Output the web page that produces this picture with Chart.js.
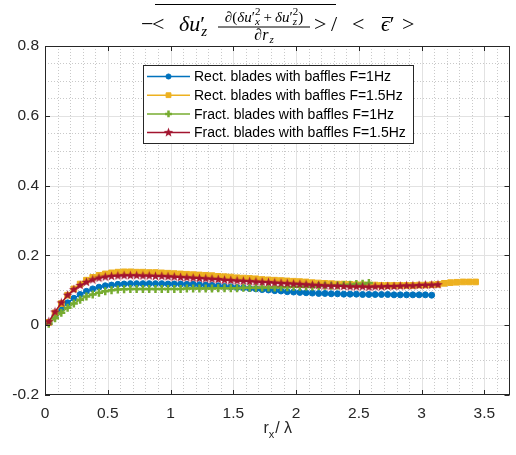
<!DOCTYPE html>
<html>
<head>
<meta charset="utf-8">
<script src="https://cdn.jsdelivr.net/npm/chart.js@4.4.1/dist/chart.umd.min.js"></script>
<style>
	html, body { margin: 0; padding: 0; background: #fff; }
</style>
</head>
<body>
<canvas id="myChart" width="516" height="455"></canvas>
<script>
// separation r_x / lambda, shared by all four series
const rx = [0.03, 0.08, 0.13, 0.18, 0.23, 0.28, 0.33, 0.38, 0.43, 0.48,
	0.53, 0.58, 0.63, 0.68, 0.73, 0.78, 0.83, 0.88, 0.93, 0.98,
	1.03, 1.08, 1.13, 1.18, 1.23, 1.28, 1.33, 1.38, 1.43, 1.48,
	1.53, 1.58, 1.63, 1.68, 1.73, 1.78, 1.83, 1.88, 1.93, 1.98,
	2.03, 2.08, 2.13, 2.18, 2.23, 2.28, 2.33, 2.38, 2.43, 2.48,
	2.53, 2.58, 2.63, 2.68, 2.73, 2.78, 2.83, 2.88, 2.93, 2.98,
	3.03, 3.08, 3.13, 3.18, 3.23, 3.28, 3.33, 3.38, 3.43];

const rect1Hz = [0.008, 0.028, 0.048, 0.064, 0.077, 0.088, 0.097, 0.104, 0.109, 0.113,
	0.115, 0.117, 0.118, 0.119, 0.119, 0.119, 0.119, 0.119, 0.119, 0.118,
	0.118, 0.118, 0.117, 0.117, 0.116, 0.115, 0.114, 0.113, 0.111, 0.110,
	0.108, 0.107, 0.105, 0.104, 0.102, 0.101, 0.099, 0.098, 0.096, 0.095,
	0.094, 0.093, 0.092, 0.091, 0.091, 0.090, 0.090, 0.089, 0.089, 0.089,
	0.088, 0.088, 0.088, 0.088, 0.088, 0.087, 0.087, 0.087, 0.087, 0.087,
	0.087, 0.086];

const rect15Hz = [0.008, 0.035, 0.062, 0.086, 0.104, 0.118, 0.129, 0.137, 0.143, 0.147,
	0.150, 0.152, 0.153, 0.153, 0.152, 0.152, 0.151, 0.151, 0.150, 0.149,
	0.148, 0.147, 0.146, 0.145, 0.144, 0.143, 0.142, 0.140, 0.139, 0.138,
	0.136, 0.135, 0.134, 0.133, 0.131, 0.130, 0.129, 0.128, 0.127, 0.126,
	0.125, 0.124, 0.122, 0.121, 0.120, 0.119, 0.118, 0.118, 0.117, 0.116,
	0.116, 0.115, 0.115, 0.114, 0.114, 0.114, 0.114, 0.114, 0.114, 0.115,
	0.115, 0.116, 0.117, 0.120, 0.122, 0.123, 0.124, 0.124, 0.124];

const fract1Hz = [0.004, 0.020, 0.036, 0.050, 0.062, 0.073, 0.082, 0.088, 0.093, 0.097,
	0.100, 0.102, 0.103, 0.104, 0.104, 0.104, 0.104, 0.104, 0.104, 0.104,
	0.104, 0.104, 0.105, 0.105, 0.105, 0.105, 0.105, 0.106, 0.106, 0.106,
	0.106, 0.107, 0.107, 0.107, 0.108, 0.108, 0.108, 0.109, 0.109, 0.110,
	0.110, 0.111, 0.111, 0.112, 0.113, 0.113, 0.114, 0.115, 0.116, 0.118,
	0.119, 0.121];

const fract15Hz = [0.010, 0.038, 0.064, 0.086, 0.102, 0.114, 0.123, 0.130, 0.135, 0.138,
	0.140, 0.141, 0.142, 0.142, 0.142, 0.141, 0.141, 0.140, 0.140, 0.139,
	0.138, 0.137, 0.136, 0.135, 0.134, 0.133, 0.132, 0.131, 0.129, 0.128,
	0.127, 0.126, 0.125, 0.124, 0.123, 0.122, 0.121, 0.120, 0.119, 0.118,
	0.117, 0.116, 0.115, 0.114, 0.113, 0.112, 0.112, 0.111, 0.110, 0.110,
	0.110, 0.109, 0.110, 0.110, 0.111, 0.111, 0.112, 0.113, 0.113, 0.114,
	0.115, 0.115, 0.116];

const seriesLabels = ["Rect. blades with baffles F=1Hz", "Rect. blades with baffles F=1.5Hz",
	"Fract. blades with baffles F=1Hz", "Fract. blades with baffles F=1.5Hz"];

const SANS = '"Liberation Sans", Arial, Helvetica, sans-serif';
const SERIF = '"Liberation Serif", "DejaVu Serif", serif';
const INK = "#262626";

// filled 5 point star, used as the marker of the last series
function makeStar(color) {
	let c = document.createElement("canvas");
	c.width = 11; c.height = 11;
	let g = c.getContext("2d");
	g.beginPath();
	for (let k = 0; k < 10; k++) {
		let r = k % 2 ? 2.1 : 5;
		let a = -Math.PI / 2 + k * Math.PI / 5;
		g.lineTo(5.5 + r * Math.cos(a), 5.5 + r * Math.sin(a));
	}
	g.closePath();
	g.fillStyle = color;
	g.fill();
	return c;
}

function toPoints(vals) {
	return vals.map((v, i) => ({ x: rx[i], y: v }));
}

function series(label, vals, color, style, radius, bw, order) {
	return {
		label: label,
		data: toPoints(vals),
		borderColor: color,
		backgroundColor: color,
		borderWidth: 1.5,
		pointStyle: style,
		pointRadius: radius,
		pointBorderWidth: bw,
		pointBackgroundColor: color,
		pointBorderColor: color,
		tension: 0,
		fill: false,
		order: order
	};
}

// ---- title with the LaTeX-ish expression ----
function drawPieces(ctx, pieces, x, y, draw) {
	let start = x, held = null;
	pieces.forEach(p => {
		ctx.font = (p.i ? "italic " : "") + p.s + "px " + SERIF;
		let w = ctx.measureText(p.t).width;
		if (draw) ctx.fillText(p.t, x, y + (p.dy || 0));
		if (p.hold) { held = w; return; }
		x += (held !== null ? Math.max(held, w) : w) + (p.gap || 0);
		held = null;
	});
	return x - start;
}

function drawTitle(ctx) {
	const base = 31;
	let x = 0;
	let put = (t, s, it, dy) => {
		ctx.font = (it ? "italic " : "") + s + "px " + SERIF;
		ctx.fillText(t, x, base + (dy || 0));
		let w = ctx.measureText(t).width;
		x += w;
		return w;
	};
	x = 141; put("\u2212", 22);
	x = 152; put("<", 22);
	x = 179; put("\u03b4", 22, true);
	put("u", 22, true);
	let px = x;
	put("\u2032", 22);
	x = px + 1;
	put("z", 15, true, 5);

	let num = [
		{ t: "\u2202(", s: 15 }, { t: "\u03b4u", s: 15, i: true }, { t: "\u2032", s: 15 },
		{ t: "2", s: 11, dy: -7, hold: true }, { t: "x", s: 11, i: true, dy: 3, gap: 3 },
		{ t: "+", s: 15, gap: 3 }, { t: "\u03b4u", s: 15, i: true }, { t: "\u2032", s: 15 },
		{ t: "2", s: 11, dy: -7, hold: true }, { t: "z", s: 11, i: true, dy: 3 },
		{ t: ")", s: 15 }
	];
	let den = [{ t: "\u2202", s: 16 }, { t: "r", s: 16, i: true, gap: 1 }, { t: "z", s: 11, i: true, dy: 3 }];
	let nw = drawPieces(ctx, num, 0, 0, false);
	let dw = drawPieces(ctx, den, 0, 0, false);
	const f0 = 218, f1 = 310;
	drawPieces(ctx, num, (f0 + f1 - nw) / 2, base - 9, true);
	drawPieces(ctx, den, (f0 + f1 - dw) / 2, base + 9, true);
	ctx.fillRect(f0, base - 4.5, f1 - f0, 1);

	x = 314; put(">", 22);
	ctx.fillRect(155, 4, 336 - 155, 1);
	x = 331; put("/", 22);
	x = 352; put("<", 22);
	x = 381;
	let ew = put("\u03f5", 22, true);
	ctx.fillRect(382, base - 14, ew, 1);
	put("\u2032", 22);
	x = 402; put(">", 22);
}

function drawXLabel(ctx, cx, base) {
	ctx.font = "16px " + SANS;
	let wr = ctx.measureText("r").width;
	ctx.font = "11px " + SANS;
	let wx = ctx.measureText("x").width;
	ctx.font = "16px " + SANS;
	let wt = ctx.measureText("/ \u03bb").width;
	let x = cx - (wr + wx + wt) / 2;
	ctx.fillStyle = INK;
	ctx.fillText("r", x, base);
	ctx.font = "11px " + SANS;
	ctx.fillText("x", x + wr, base + 5);
	ctx.font = "16px " + SANS;
	ctx.fillText("/ \u03bb", x + wr + wx + 1, base);
}

const decor = {
	id: "decor",
	beforeDatasetsDraw(chart) {
		const ctx = chart.ctx, a = chart.chartArea;
		const xs = chart.scales.x, ys = chart.scales.y;
		ctx.save();
		ctx.lineWidth = 1;
		// minor grid, dotted
		ctx.strokeStyle = "#c9c9c9";
		ctx.setLineDash([1, 2]);
		for (let k = 1; k < 37; k++) {
			if (k % 5 === 0) continue;
			let p = Math.round(xs.getPixelForValue(k / 10)) + 0.5;
			ctx.beginPath(); ctx.moveTo(p, a.top); ctx.lineTo(p, a.bottom); ctx.stroke();
		}
		for (let k = -3; k < 16; k++) {
			if (k % 4 === 0) continue;
			let p = Math.round(ys.getPixelForValue(k / 20)) + 0.5;
			ctx.beginPath(); ctx.moveTo(a.left, p); ctx.lineTo(a.right, p); ctx.stroke();
		}
		// major grid
		ctx.setLineDash([]);
		ctx.strokeStyle = "#e2e2e2";
		for (let k = 1; k <= 7; k++) {
			let p = Math.round(xs.getPixelForValue(k / 2)) + 0.5;
			ctx.beginPath(); ctx.moveTo(p, a.top); ctx.lineTo(p, a.bottom); ctx.stroke();
		}
		for (let k = 0; k < 5; k++) {
			let p = Math.round(ys.getPixelForValue(k / 5)) + 0.5;
			ctx.beginPath(); ctx.moveTo(a.left, p); ctx.lineTo(a.right, p); ctx.stroke();
		}
		ctx.restore();
	},
	afterDatasetsDraw(chart) {
		const ctx = chart.ctx, a = chart.chartArea;
		const xs = chart.scales.x, ys = chart.scales.y;
		ctx.save();
		// axes box and inward ticks
		ctx.strokeStyle = INK;
		ctx.lineWidth = 1;
		ctx.strokeRect(Math.round(a.left) + 0.5, Math.round(a.top) + 0.5,
			Math.round(a.right - a.left) - 1, Math.round(a.bottom - a.top) - 1);
		ctx.beginPath();
		for (let k = 1; k <= 7; k++) {
			let p = Math.round(xs.getPixelForValue(k / 2)) + 0.5;
			ctx.moveTo(p, a.bottom); ctx.lineTo(p, a.bottom - 5);
			ctx.moveTo(p, a.top); ctx.lineTo(p, a.top + 5);
		}
		for (let k = -1; k <= 4; k++) {
			let p = Math.round(ys.getPixelForValue(k / 5)) + 0.5;
			ctx.moveTo(a.left, p); ctx.lineTo(a.left + 5, p);
			ctx.moveTo(a.right, p); ctx.lineTo(a.right - 5, p);
		}
		ctx.stroke();

		// legend box
		const L = { x: 143.5, y: 65.5, w: 270, h: 78 };
		ctx.fillStyle = "#fff";
		ctx.fillRect(L.x, L.y, L.w, L.h);
		ctx.strokeStyle = INK;
		ctx.strokeRect(L.x, L.y, L.w, L.h);
		ctx.font = "14px " + SANS;
		ctx.textBaseline = "middle";
		chart.data.datasets.forEach((ds, i) => {
			let y = 76.5 + i * 18.7;
			ctx.strokeStyle = ds.borderColor;
			ctx.fillStyle = ds.borderColor;
			ctx.lineWidth = 1.5;
			ctx.beginPath(); ctx.moveTo(147, y); ctx.lineTo(190, y); ctx.stroke();
			ctx.lineWidth = ds.pointBorderWidth;
			Chart.helpers.drawPoint(ctx, {
				pointStyle: ds.pointStyle, radius: ds.pointRadius * 0.85,
				borderWidth: ds.pointBorderWidth, rotation: 0
			}, 168.5, y);
			ctx.fillStyle = "#000";
			ctx.fillText(seriesLabels[i], 194, y + 1);
		});
		ctx.restore();
	},
	afterDraw(chart) {
		const ctx = chart.ctx, a = chart.chartArea;
		ctx.save();
		ctx.fillStyle = "#000";
		ctx.textBaseline = "alphabetic";
		ctx.textAlign = "left";
		drawTitle(ctx);
		drawXLabel(ctx, (a.left + a.right) / 2, 433);
		ctx.restore();
	}
};

function createChart() {
	const ctx = document.getElementById("myChart");
	const tickFont = { family: SANS, size: 15.5 };
	const fmt = v => String(+Number(v).toFixed(2));
	new Chart(ctx, {
		type: "line",
		data: {
			datasets: [
				series(seriesLabels[0], rect1Hz, "#0072BD", "circle", 3, 1, 4),
				series(seriesLabels[1], rect15Hz, "#EDB120", "rect", 4, 1, 3),
				series(seriesLabels[2], fract1Hz, "#77AC30", "cross", 4, 2.5, 2),
				series(seriesLabels[3], fract15Hz, "#A2142F", makeStar("#A2142F"), 4, 1, 1)
			]
		},
		options: {
			responsive: false,
			animation: false,
			devicePixelRatio: 1,
			layout: { padding: { top: 46, right: 5, left: 0, bottom: 0 } },
			plugins: { legend: { display: false }, tooltip: { enabled: false }, title: { display: false } },
			scales: {
				x: {
					type: "linear", min: 0, max: 3.7,
					afterFit: s => { s.height = 60; },
					grid: { display: false, drawTicks: false },
					border: { display: false },
					ticks: { stepSize: 0.5, includeBounds: false, padding: 9, color: INK, font: tickFont,
						maxRotation: 0, autoSkip: false, callback: fmt }
				},
				y: {
					type: "linear", min: -0.2, max: 0.8,
					afterFit: s => { s.width = 45; },
					grid: { display: false, drawTicks: false },
					border: { display: false },
					ticks: { stepSize: 0.2, padding: 6, color: INK, font: tickFont, callback: fmt }
				}
			}
		},
		plugins: [decor]
	});
}

createChart();
</script>
</body>
</html>
